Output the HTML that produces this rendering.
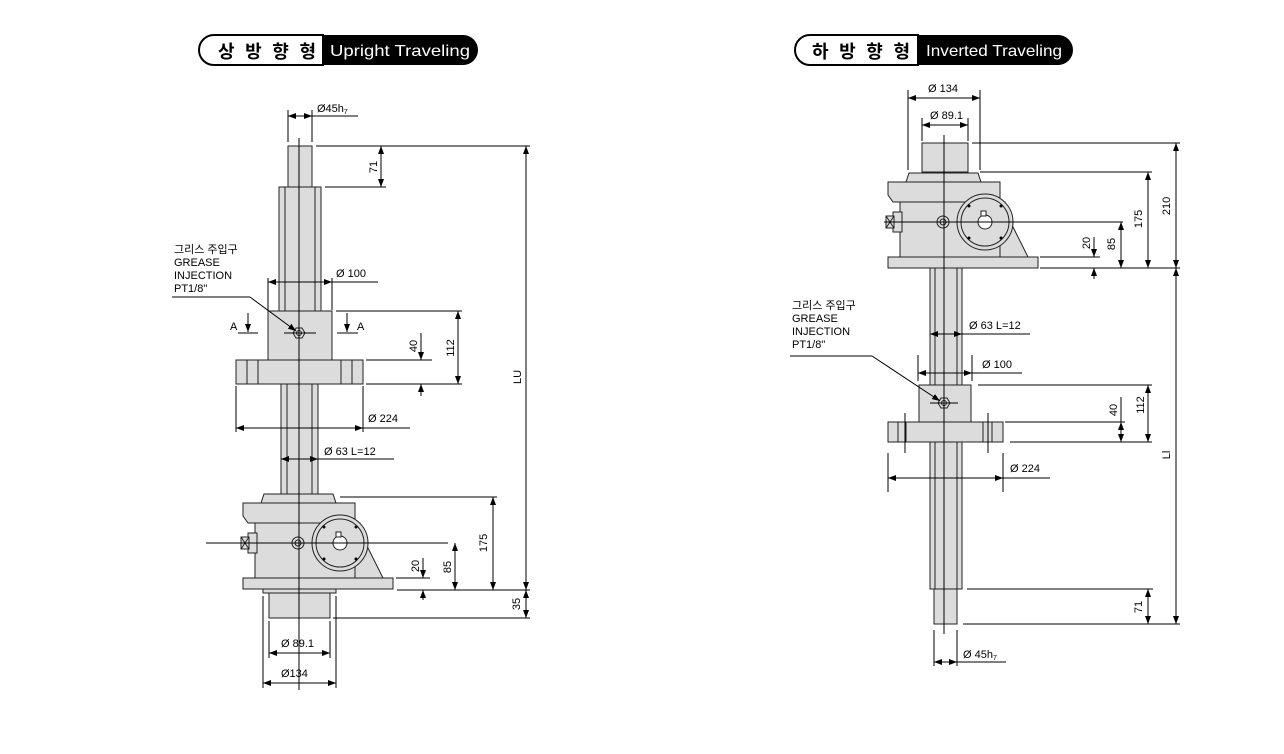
<!DOCTYPE html>
<html><head><meta charset="utf-8"><style>
html,body{margin:0;padding:0;background:#fff;}
svg{display:block;}
text{font-family:"Liberation Sans","Noto Sans CJK KR",sans-serif;fill:#000;}
</style></head><body>
<svg width="1284" height="754" viewBox="0 0 1284 754" xmlns="http://www.w3.org/2000/svg">
<defs>
<marker id="a" viewBox="0 0 8 6" refX="8" refY="3" markerWidth="8" markerHeight="6" orient="auto-start-reverse" markerUnits="userSpaceOnUse"><path d="M0,0 L8,3 L0,6 z" fill="#000"/></marker>
<g id="gb" stroke="#222" stroke-width="1" fill="#dcdcdc">
<path d="M261,503 L264,494 L333,494 L336,503 Z"/>
<path d="M243,503 L355,503 L355,523 L248,523 L243,516 Z"/>
<rect x="255" y="523" width="105" height="55"/>
<path d="M355,522 L383,578 L355,578 Z"/>
<circle cx="340" cy="543" r="28"/>
<circle cx="340" cy="543" r="24"/>
<circle cx="340" cy="543" r="7" fill="#fff"/>
<rect x="336" y="532" width="5" height="5" fill="#fff"/>
<rect x="243" y="578" width="150" height="11"/>
<rect x="248" y="533" width="9" height="20"/>
<rect x="241" y="537" width="8" height="12"/>
<path d="M241,537 L249,549 M249,537 L241,549" fill="none"/>
<circle cx="298" cy="543" r="6"/><circle cx="298" cy="543" r="3"/>
<g fill="#000" stroke="none"><circle cx="324" cy="527" r="1.5"/><circle cx="356" cy="527" r="1.5"/><circle cx="324" cy="559" r="1.5"/><circle cx="356" cy="559" r="1.5"/></g>
</g>
</defs>

<!-- TITLES -->
<path d="M214,35 L323,35 L323,65 L214,65 A15,15 0 0 1 214,35 Z" fill="#fff" stroke="#000" stroke-width="2"/>
<path d="M323,35 L463,35 A15,15 0 0 1 463,65 L323,65 Z" fill="#000"/>
<text x="218" y="58" font-size="18" font-weight="bold" textLength="98" lengthAdjust="spacing">상 방 향 형</text>
<text x="330" y="56" font-size="16" textLength="140" lengthAdjust="spacingAndGlyphs" style="fill:#fff">Upright Traveling</text>

<path d="M810,35 L918,35 L918,65 L810,65 A15,15 0 0 1 810,35 Z" fill="#fff" stroke="#000" stroke-width="2"/>
<path d="M918,35 L1058,35 A15,15 0 0 1 1058,65 L918,65 Z" fill="#000"/>
<text x="812" y="58" font-size="18" font-weight="bold" textLength="98" lengthAdjust="spacing">하 방 향 형</text>
<text x="926" y="56" font-size="16" textLength="136" lengthAdjust="spacingAndGlyphs" style="fill:#fff">Inverted Traveling</text>

<!-- LEFT DRAWING -->
<g stroke="#222" stroke-width="1" fill="#dcdcdc">
<rect x="288" y="146" width="24" height="41"/>
<rect x="279" y="187" width="42" height="124"/>
<line x1="285" y1="187" x2="285" y2="311"/><line x1="315" y1="187" x2="315" y2="311"/>
<rect x="268" y="311" width="64" height="49"/>
<rect x="236" y="360" width="127" height="24"/>
<line x1="247" y1="360" x2="247" y2="384"/><line x1="258" y1="360" x2="258" y2="384"/>
<line x1="341" y1="360" x2="341" y2="384"/><line x1="352" y1="360" x2="352" y2="384"/>
<rect x="281" y="384" width="37" height="110"/>
<line x1="287" y1="384" x2="287" y2="494"/><line x1="312" y1="384" x2="312" y2="494"/>
<rect x="263" y="589" width="73" height="4"/>
<rect x="269" y="593" width="61" height="25"/>
<polygon points="293,333 296,328 302,328 305,333 302,338 296,338"/>
<circle cx="299" cy="333" r="2.5"/>
</g>
<use href="#gb"/>
<g stroke="#000" stroke-width="1" fill="none">
<line x1="299" y1="138" x2="299" y2="690"/>
<line x1="206" y1="543" x2="448" y2="543"/>
<line x1="284" y1="333" x2="316" y2="333"/>
<line x1="288" y1="110" x2="288" y2="142"/><line x1="312" y1="110" x2="312" y2="142"/>
<line x1="288" y1="116" x2="312" y2="116" marker-start="url(#a)" marker-end="url(#a)"/><line x1="312" y1="116" x2="358" y2="116"/>
<line x1="316" y1="146" x2="530" y2="146"/><line x1="325" y1="187" x2="386" y2="187"/>
<line x1="381" y1="146" x2="381" y2="187" marker-start="url(#a)" marker-end="url(#a)"/>
<line x1="268" y1="278" x2="268" y2="310"/><line x1="332" y1="278" x2="332" y2="310"/>
<line x1="268" y1="282" x2="332" y2="282" marker-start="url(#a)" marker-end="url(#a)"/><line x1="332" y1="282" x2="378" y2="282"/>
<line x1="238" y1="333" x2="258" y2="333"/><line x1="248" y1="313" x2="248" y2="332" marker-end="url(#a)"/>
<line x1="337" y1="333" x2="358" y2="333"/><line x1="347" y1="313" x2="347" y2="332" marker-end="url(#a)"/>
<line x1="336" y1="311" x2="462" y2="311"/>
<line x1="458" y1="311" x2="458" y2="384" marker-start="url(#a)" marker-end="url(#a)"/>
<line x1="366" y1="360" x2="432" y2="360"/>
<line x1="421" y1="333" x2="421" y2="360" marker-end="url(#a)"/>
<line x1="421" y1="396" x2="421" y2="384" marker-end="url(#a)"/>
<line x1="366" y1="384" x2="462" y2="384"/>
<line x1="236" y1="386" x2="236" y2="432"/><line x1="363" y1="386" x2="363" y2="432"/>
<line x1="236" y1="428" x2="363" y2="428" marker-start="url(#a)" marker-end="url(#a)"/><line x1="363" y1="428" x2="410" y2="428"/>
<line x1="281" y1="459" x2="318" y2="459" marker-start="url(#a)" marker-end="url(#a)"/><line x1="318" y1="459" x2="394" y2="459"/>
<line x1="340" y1="497" x2="497" y2="497"/>
<line x1="493" y1="497" x2="493" y2="590" marker-start="url(#a)" marker-end="url(#a)"/>
<line x1="455" y1="543" x2="455" y2="590" marker-start="url(#a)" marker-end="url(#a)"/>
<line x1="396" y1="578" x2="430" y2="578"/>
<line x1="423" y1="558" x2="423" y2="578" marker-end="url(#a)"/>
<line x1="423" y1="600" x2="423" y2="590" marker-end="url(#a)"/>
<line x1="397" y1="590" x2="530" y2="590"/>
<line x1="526" y1="146" x2="526" y2="590" marker-start="url(#a)" marker-end="url(#a)"/>
<line x1="526" y1="590" x2="526" y2="618" marker-start="url(#a)" marker-end="url(#a)"/>
<line x1="333" y1="618" x2="530" y2="618"/>
<line x1="269" y1="621" x2="269" y2="658"/><line x1="330" y1="621" x2="330" y2="658"/>
<line x1="269" y1="653" x2="330" y2="653" marker-start="url(#a)" marker-end="url(#a)"/>
<line x1="263" y1="596" x2="263" y2="688"/><line x1="336" y1="596" x2="336" y2="688"/>
<line x1="263" y1="683" x2="336" y2="683" marker-start="url(#a)" marker-end="url(#a)"/>
<line x1="172" y1="297" x2="250" y2="297"/><line x1="250" y1="297" x2="296" y2="331" marker-end="url(#a)"/>
</g>
<g font-size="11">
<text x="174" y="253">그리스 주입구</text>
<text x="174" y="266">GREASE</text>
<text x="174" y="279">INJECTION</text>
<text x="174" y="292">PT1/8"</text>
<text x="317" y="112">Ø45h<tspan font-size="7" dy="2">7</tspan></text>
<text x="336" y="277">Ø 100</text>
<text x="230" y="330">A</text><text x="357" y="330">A</text>
<text x="368" y="422">Ø 224</text>
<text x="324" y="455">Ø 63  L=12</text>
<text x="281" y="647">Ø 89.1</text>
<text x="281" y="677">Ø134</text>
<text transform="translate(377,167) rotate(-90)" text-anchor="middle">71</text>
<text transform="translate(454,348) rotate(-90)" text-anchor="middle">112</text>
<text transform="translate(417,346) rotate(-90)" text-anchor="middle">40</text>
<text transform="translate(487,543) rotate(-90)" text-anchor="middle">175</text>
<text transform="translate(451,567) rotate(-90)" text-anchor="middle">85</text>
<text transform="translate(419,566) rotate(-90)" text-anchor="middle">20</text>
<text transform="translate(521,377) rotate(-90)" text-anchor="middle">LU</text>
<text transform="translate(520,604) rotate(-90)" text-anchor="middle">35</text>
</g>

<!-- RIGHT DRAWING -->
<g stroke="#222" stroke-width="1" fill="#dcdcdc">
<rect x="922" y="143" width="46" height="29"/>
<rect x="930" y="268" width="32" height="321"/>
<line x1="935" y1="268" x2="935" y2="589"/><line x1="957" y1="268" x2="957" y2="589"/>
<rect x="919" y="385" width="52" height="37"/>
<rect x="888" y="422" width="115" height="20"/>
<line x1="898" y1="422" x2="898" y2="442"/><line x1="906" y1="422" x2="906" y2="442"/>
<line x1="983" y1="422" x2="983" y2="442"/><line x1="992" y1="422" x2="992" y2="442"/>
<rect x="934" y="589" width="23" height="35"/>
<polygon points="938,403 941,398 947,398 950,403 947,408 941,408"/>
<circle cx="944" cy="403" r="2.5"/>
</g>
<use href="#gb" transform="translate(645,-321)"/>
<g stroke="#000" stroke-width="1" fill="none">
<line x1="944" y1="135" x2="944" y2="634"/>
<line x1="884" y1="222" x2="1123" y2="222"/>
<line x1="930" y1="403" x2="958" y2="403"/>
<line x1="908" y1="90" x2="908" y2="170"/><line x1="980" y1="90" x2="980" y2="170"/>
<line x1="908" y1="98" x2="980" y2="98" marker-start="url(#a)" marker-end="url(#a)"/>
<line x1="922" y1="118" x2="922" y2="141"/><line x1="968" y1="118" x2="968" y2="141"/>
<line x1="922" y1="125" x2="968" y2="125" marker-start="url(#a)" marker-end="url(#a)"/>
<line x1="972" y1="143" x2="1180" y2="143"/>
<line x1="980" y1="172" x2="1152" y2="172"/>
<line x1="1176" y1="143" x2="1176" y2="268" marker-start="url(#a)" marker-end="url(#a)"/>
<line x1="1148" y1="172" x2="1148" y2="268" marker-start="url(#a)" marker-end="url(#a)"/>
<line x1="1121" y1="222" x2="1121" y2="268" marker-start="url(#a)" marker-end="url(#a)"/>
<line x1="1040" y1="257" x2="1100" y2="257"/>
<line x1="1094" y1="237" x2="1094" y2="257" marker-end="url(#a)"/>
<line x1="1094" y1="279" x2="1094" y2="268" marker-end="url(#a)"/>
<line x1="1040" y1="268" x2="1180" y2="268"/>
<line x1="1176" y1="268" x2="1176" y2="624" marker-start="url(#a)" marker-end="url(#a)"/>
<line x1="930" y1="334" x2="962" y2="334" marker-start="url(#a)" marker-end="url(#a)"/><line x1="962" y1="334" x2="1030" y2="334"/>
<line x1="918" y1="355" x2="918" y2="381"/><line x1="972" y1="355" x2="972" y2="381"/>
<line x1="918" y1="373" x2="972" y2="373" marker-start="url(#a)" marker-end="url(#a)"/><line x1="972" y1="373" x2="1022" y2="373"/>
<line x1="978" y1="385" x2="1152" y2="385"/>
<line x1="1148" y1="385" x2="1148" y2="442" marker-start="url(#a)" marker-end="url(#a)"/>
<line x1="1005" y1="422" x2="1125" y2="422"/>
<line x1="1121" y1="397" x2="1121" y2="442"/>
<line x1="1121" y1="432" x2="1121" y2="422" marker-end="url(#a)"/>
<line x1="1121" y1="432" x2="1121" y2="442" marker-end="url(#a)"/>
<line x1="1010" y1="442" x2="1152" y2="442"/>
<line x1="905" y1="413" x2="905" y2="453"/><line x1="988" y1="413" x2="988" y2="453"/>
<line x1="888" y1="453" x2="888" y2="492"/><line x1="1003" y1="453" x2="1003" y2="492"/>
<line x1="888" y1="478" x2="1003" y2="478" marker-start="url(#a)" marker-end="url(#a)"/><line x1="1003" y1="478" x2="1050" y2="478"/>
<line x1="967" y1="589" x2="1153" y2="589"/>
<line x1="963" y1="624" x2="1180" y2="624"/>
<line x1="1148" y1="589" x2="1148" y2="624" marker-start="url(#a)" marker-end="url(#a)"/>
<line x1="934" y1="630" x2="934" y2="666"/><line x1="957" y1="630" x2="957" y2="666"/>
<line x1="934" y1="662" x2="957" y2="662" marker-start="url(#a)" marker-end="url(#a)"/><line x1="957" y1="662" x2="1006" y2="662"/>
<line x1="790" y1="356" x2="872" y2="356"/><line x1="872" y1="356" x2="940" y2="401" marker-end="url(#a)"/>
</g>
<g font-size="11">
<text x="792" y="309">그리스 주입구</text>
<text x="792" y="322">GREASE</text>
<text x="792" y="335">INJECTION</text>
<text x="792" y="348">PT1/8"</text>
<text x="928" y="92">Ø 134</text>
<text x="930" y="119">Ø 89.1</text>
<text x="969" y="329">Ø 63 L=12</text>
<text x="982" y="368">Ø 100</text>
<text x="1010" y="472">Ø 224</text>
<text x="963" y="658">Ø 45h<tspan font-size="7" dy="2">7</tspan></text>
<text transform="translate(1170,206) rotate(-90)" text-anchor="middle">210</text>
<text transform="translate(1142,219) rotate(-90)" text-anchor="middle">175</text>
<text transform="translate(1115,244) rotate(-90)" text-anchor="middle">85</text>
<text transform="translate(1090,243) rotate(-90)" text-anchor="middle">20</text>
<text transform="translate(1144,405) rotate(-90)" text-anchor="middle">112</text>
<text transform="translate(1117,410) rotate(-90)" text-anchor="middle">40</text>
<text transform="translate(1170,455) rotate(-90)" text-anchor="middle">Ll</text>
<text transform="translate(1142,607) rotate(-90)" text-anchor="middle">71</text>
</g>
</svg>
</body></html>
